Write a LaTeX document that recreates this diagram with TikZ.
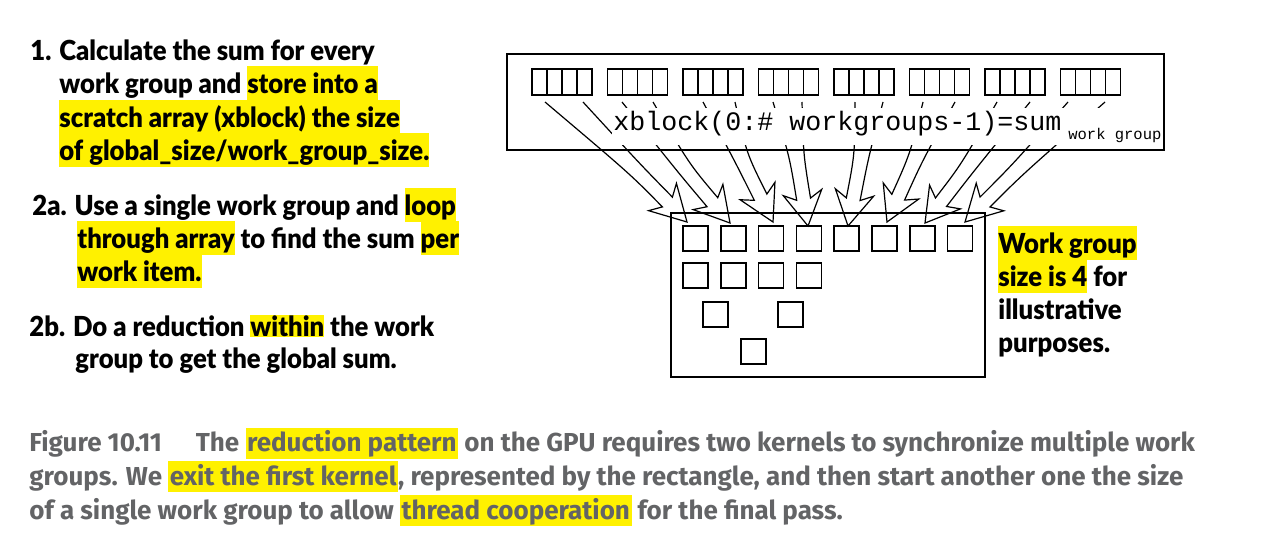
\documentclass[tikz,border=0pt]{standalone}
\usepackage{fontspec}
\setmainfont{Lato}[FakeStretch=0.93,BoldFont={Lato Black}]
\newfontfamily\codefont{Liberation Mono}
\newfontfamily\capfont{Fira Sans}
\usetikzlibrary{calc,positioning}

\definecolor{hlyellow}{RGB}{255,241,0}
\definecolor{capgray}{RGB}{99,100,102}

% yellow marker behind a phrase
\newcommand{\hl}[1]{{\setlength{\fboxsep}{0pt}\colorbox{hlyellow}{\rule[-3.5pt]{0pt}{17pt}#1}}}
\newcommand{\hlshort}[1]{{\setlength{\fboxsep}{0pt}\colorbox{hlyellow}{\rule[-0.5pt]{0pt}{11pt}#1}}}
\newcommand{\hlcap}[1]{{\setlength{\fboxsep}{0.8pt}\colorbox{hlyellow}{\rule[-2.5pt]{0pt}{13.5pt}#1}}}

% hollow arrow: start left, start right, head base, tip
\newcommand{\wgarrow}[4]{%
  \coordinate (sl) at #1; \coordinate (sr) at #2;
  \coordinate (hb) at #3; \coordinate (tp) at #4;
  \coordinate (hn) at ($(hb)!0.2!(tp)$);
  \coordinate (nl) at ($(hn)!3.5pt!-90:(tp)$);
  \coordinate (nr) at ($(hn)!3.5pt!90:(tp)$);
  \coordinate (bl) at ($(hb)!9.75pt!-90:(tp)$);
  \coordinate (br) at ($(hb)!9.75pt!90:(tp)$);
  \draw[fatarrow] (sl) .. controls ($(nl)+1.3*(hb)-1.3*(tp)$) .. (nl) -- (bl) -- (tp)
    -- (br) -- (nr) .. controls ($(nr)+1.3*(hb)-1.3*(tp)$) .. (sr);}

\tikzset{
  wgroup/.style={draw, line width=0.7pt, minimum width=30pt, minimum height=13pt, inner sep=0pt,
    path picture={\foreach \f in {0.25,0.5,0.75}
      \draw[line width=0.6pt] ($(path picture bounding box.south west)!\f!(path picture bounding box.south east)$)
        -- ($(path picture bounding box.north west)!\f!(path picture bounding box.north east)$);}},
  wgitem/.style={draw, line width=0.75pt, minimum size=12.5pt, inner sep=0pt},
  frame/.style={draw, line width=0.75pt},
  fatarrow/.style={line width=0.6pt, line join=miter},
  notetext/.style={anchor=base west, inner sep=0pt, font=\bfseries\fontsize{13.8pt}{16pt}\selectfont},
  captext/.style={anchor=base west, inner sep=0pt, text=capgray,
    font=\capfont\bfseries\fontsize{13pt}{15pt}\selectfont},
}

\begin{document}
\begin{tikzpicture}[x=0.5pt,y=-0.5pt]
\useasboundingbox (0,0) rectangle (1277,546);

% steps on the left
\node[notetext] (s1a) at (30,60) {1. Calculate the sum for every};
\node[notetext] (s1b) at (59,93) {work group and \hl{store into a}};
\node[notetext] (s1c) at (59,127) {\hl{scratch array (xblock) the size}};
\node[notetext] (s1d) at (59,160) {\hl{of global\_size/work\_group\_size.}};
\node[notetext] (s2a) at (32,215) {2a. Use a single work group and \hl{loop}};
\node[notetext] (s2b) at (77,248) {\hl{through array} to find the sum \hl{per}};
\node[notetext] (s2c) at (77,281) {\hl{work item.}};
\node[notetext] (s3a) at (29,336) {2b. Do a reduction \hlshort{within} the work};
\node[notetext] (s3b) at (75,368) {group to get the global sum.};

% first kernel: scratch array
\draw[frame] (507,54) rectangle (1164,150);
\node[wgroup] (g1) at (562,82) {};
\node[wgroup] (g2) at (637.5,82) {};
\node[wgroup] (g3) at (713,82) {};
\node[wgroup] (g4) at (788.5,82) {};
\node[wgroup] (g5) at (864,82) {};
\node[wgroup] (g6) at (939.5,82) {};
\node[wgroup] (g7) at (1015,82) {};
\node[wgroup] (g8) at (1090.5,82) {};

% second kernel: single work group
\draw[frame] (671,213) rectangle (985,377);
\node[wgitem] (q1) at (695.5,238.5) {};
\node[wgitem] (q2) at (733.3,238.5) {};
\node[wgitem] (q3) at (771.1,238.5) {};
\node[wgitem] (q4) at (808.9,238.5) {};
\node[wgitem] (q5) at (846.7,238.5) {};
\node[wgitem, line width=1.1pt] (q6) at (884.5,238.5) {};
\node[wgitem] (q7) at (922.3,238.5) {};
\node[wgitem] (q8) at (960.1,238.5) {};
\node[wgitem] (r1) at (695.5,275.5) {};
\node[wgitem] (r2) at (733.3,275.5) {};
\node[wgitem] (r3) at (771.1,275.5) {};
\node[wgitem] (r4) at (808.9,275.5) {};
\node[wgitem] (u1) at (715.5,314.5) {};
\node[wgitem] (u2) at (790.5,314.5) {};
\node[wgitem] (v1) at (753.5,351.5) {};

% group sums into the array
\wgarrow{(545,102)}{(583,102)}{(662.5,197)}{(687,222)}
\wgarrow{(622,102)}{(653,102)}{(708,197)}{(730,223)}
\wgarrow{(703,102)}{(735,102)}{(757.5,191)}{(773,222)}
\wgarrow{(773,102)}{(802,102)}{(802.5,192.5)}{(808,226)}
\wgarrow{(855,102)}{(883,102)}{(854.5,192.5)}{(848,226)}
\wgarrow{(923,102)}{(955,102)}{(901,191)}{(887,222)}
\wgarrow{(997,102)}{(1030,102)}{(945,197)}{(925,223)}
\wgarrow{(1068,102)}{(1105,102)}{(990,197)}{(965,222)}

\node[anchor=base west, fill=white, inner xsep=0.5pt, inner ysep=1.5pt] (code) at (612,130)
  {\codefont\fontsize{13.33pt}{15pt}\selectfont xblock(0:\#~workgroups-1)=sum\hspace{3.5pt}\raisebox{-4.5pt}{\fontsize{7.75pt}{9pt}\selectfont work group}};

% note on the right
\node[notetext] (n1) at (998,253) {\hl{Work group}};
\node[notetext] (n2) at (998,286) {\hl{size is 4} for};
\node[notetext] (n3) at (998,319) {illustrative};
\node[notetext] (n4) at (998,352) {purposes.};

% caption
\node[captext] (c1) at (29,451.5) {Figure 10.11\hspace{17pt}The \hlcap{reduction pattern} on the GPU requires two kernels to synchronize multiple work};
\node[captext] (c2) at (29,485) {groups. We \hlcap{exit the first kernel}, represented by the rectangle, and then start another one the size};
\node[captext] (c3) at (29,519) {of a single work group to allow \hlcap{thread cooperation} for the final pass.};
\end{tikzpicture}
\end{document}
